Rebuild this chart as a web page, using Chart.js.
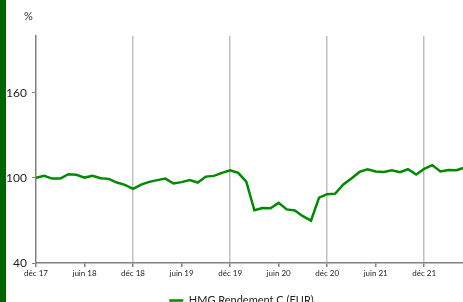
<!DOCTYPE html>
<html>
<head>
<meta charset="utf-8">
<script src="https://cdn.jsdelivr.net/npm/chart.js@4"></script>
<style>
  html, body { margin: 0; padding: 0; background: #fff; overflow: hidden; }
  #wrap { position: relative; width: 463px; height: 302px; overflow: hidden; }
  #bar { position: absolute; left: 0; top: 0; width: 6px; height: 302px; background: #006400; }
  #unit { position: absolute; left: 24px; top: 9px; font: 11px Lato, sans-serif; color: #333; }
  #box { position: absolute; left: 0; top: 0; width: 483px; height: 318px; }
</style>
</head>
<body>
<div id="wrap">
  <div id="box"><canvas id="perfChart"></canvas></div>
  <div id="bar"></div>
  <div id="unit">%</div>
</div>
<script>
// monthly points, index 0 = déc 17
const months = ['déc 17','janv 18','févr 18','mars 18','avr 18','mai 18','juin 18','juil 18','août 18','sept 18','oct 18','nov 18',
  'déc 18','janv 19','févr 19','mars 19','avr 19','mai 19','juin 19','juil 19','août 19','sept 19','oct 19','nov 19',
  'déc 19','janv 20','févr 20','mars 20','avr 20','mai 20','juin 20','juil 20','août 20','sept 20','oct 20','nov 20',
  'déc 20','janv 21','févr 21','mars 21','avr 21','mai 21','juin 21','juil 21','août 21','sept 21','oct 21','nov 21',
  'déc 21','janv 22','févr 22','mars 22','avr 22','mai 22'];
const values = [100, 101.4, 99.5, 99.5, 102.6, 102.2, 100.2, 101.4, 99.8, 99.3, 96.7, 95.1,
  92.2, 95.3, 97.2, 98.4, 99.5, 96, 97, 98.4, 96.7, 100.9, 101.4, 103.5,
  105.4, 103.5, 97.4, 77.2, 78.8, 78.6, 82.4, 77.8, 77, 73, 69.9, 86.1,
  88.5, 88.9, 95.3, 99.5, 104.2, 106.1, 104.5, 104.2, 105.4, 104, 106.1, 102.4,
  106.3, 109, 104.5, 105.6, 105.4, 107.3];
const xTickLabels = ['déc 17','juin 18','déc 18','juin 19','déc 19','juin 20','déc 20','juin 21','déc 21'];
const yTicks = [40, 100, 160];
const seriesName = 'HMG Rendement C (EUR)';

const points = values.map((v, i) => ({ x: i, y: v }));

// the plot runs past the right edge of the picture, the wrapper crops it
new Chart(document.getElementById('perfChart'), {
  type: 'line',
  data: {
    datasets: [{
      label: seriesName,
      data: points,
      borderColor: '#008a00',
      backgroundColor: '#008a00',
      borderWidth: 2.5,
      pointRadius: 0,
      tension: 0,
    }],
  },
  options: {
    responsive: true,
    maintainAspectRatio: false,
    animation: false,
    layout: { padding: { top: 36, right: 0, left: 0, bottom: 2 } },
    plugins: {
      tooltip: { enabled: false },
      legend: {
        position: 'bottom',
        labels: {
          usePointStyle: true,
          pointStyle: 'line',
          pointStyleWidth: 14,
          padding: 4,
          color: '#222',
          font: { family: 'Lato', size: 11 },
        },
      },
    },
    scales: {
      x: {
        type: 'linear',
        min: 0,
        max: 55.27,
        afterBuildTicks: s => { s.ticks = xTickLabels.map((_, i) => ({ value: i * 6 })); },
        afterFit: s => { s.height = 28; },
        ticks: {
          autoSkip: false,
          maxRotation: 0,
          padding: 2,
          color: '#222',
          font: { family: 'Lato', size: 8 },
          callback: v => xTickLabels[v / 6] || '',
        },
        grid: {
          color: c => (c.tick && c.tick.value % 12 === 0 && c.tick.value > 0) ? '#c0c0c0' : 'rgba(0,0,0,0)',
          lineWidth: 1.5,
          tickColor: '#808080',
          tickLength: 4,
          drawOnChartArea: true,
        },
        border: { color: '#808080', width: 1.5 },
      },
      y: {
        min: 40,
        max: 200,
        afterBuildTicks: s => { s.ticks = yTicks.map(v => ({ value: v })); },
        afterFit: s => { s.width = 36; },
        ticks: {
          padding: 5,
          color: '#222',
          font: { family: 'Lato', size: 12 },
        },
        grid: {
          drawOnChartArea: false,
          tickColor: '#808080',
          tickLength: 4,
        },
        border: { color: '#808080', width: 1.5 },
      },
    },
  },
});
</script>
</body>
</html>
